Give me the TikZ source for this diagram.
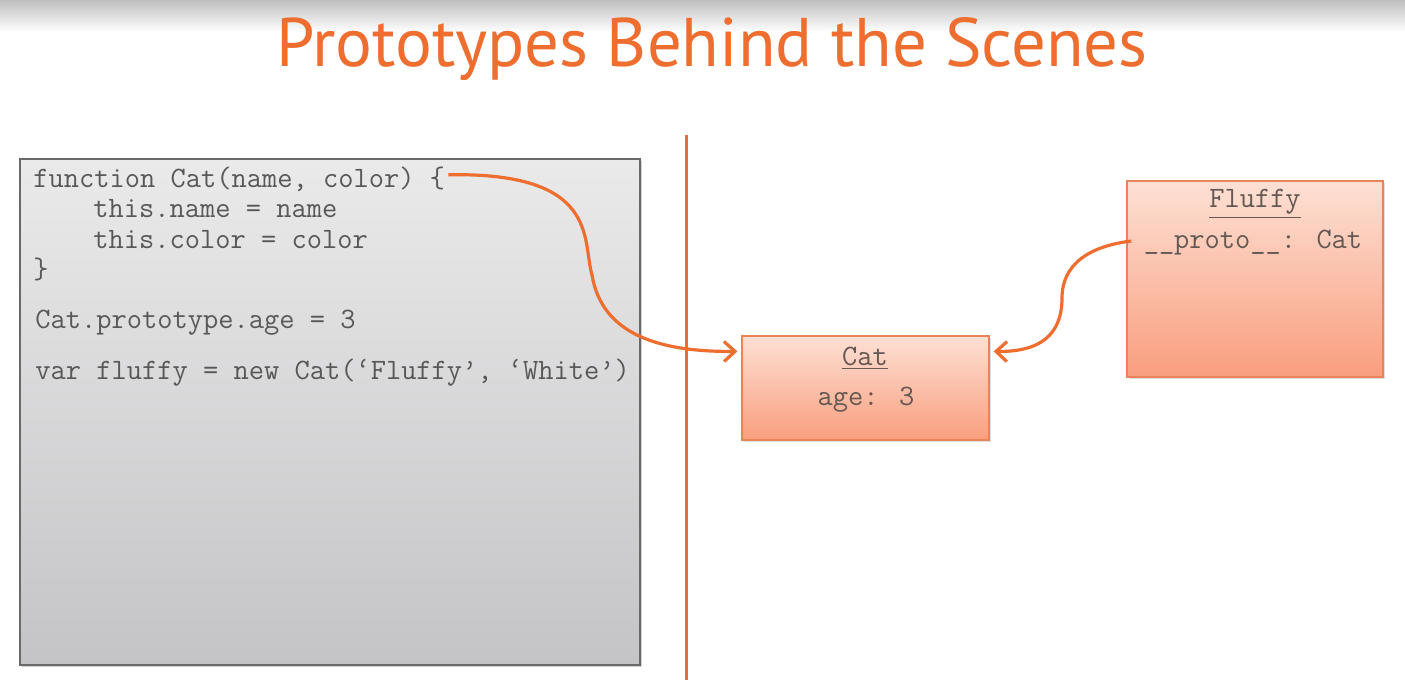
\documentclass[tikz,border=0pt]{standalone}
\usepackage{fontspec}
\setmainfont{PT Sans}
\usetikzlibrary{arrows.meta,shadows}

\definecolor{accent}{RGB}{238,110,48}
\definecolor{codeink}{RGB}{88,88,88}
\definecolor{objink}{RGB}{100,88,82}
\definecolor{panetop}{RGB}{234,234,235}
\definecolor{panebot}{RGB}{196,195,197}
\definecolor{paneedge}{RGB}{105,105,105}
\definecolor{objtop}{RGB}{253,224,212}
\definecolor{objbot}{RGB}{249,158,126}
\definecolor{objedge}{RGB}{234,130,90}

\tikzset{
  code/.style={font=\ttfamily\fontsize{14.8}{17}\selectfont, text=codeink, anchor=base west, inner sep=0pt},
  objtext/.style={font=\ttfamily\fontsize{14.8}{17}\selectfont, text=objink, inner sep=0pt},
  pane/.style={draw=paneedge, line width=0.8pt, top color=panetop, bottom color=panebot,
    drop shadow={shadow xshift=0.8pt, shadow yshift=-1.2pt, opacity=0.35}},
  objbox/.style={draw=objedge, line width=0.6pt, top color=objtop, bottom color=objbot,
    drop shadow={shadow xshift=0.8pt, shadow yshift=-1pt, opacity=0.25}},
  link/.style={draw=accent, line width=1.6pt, -{Straight Barb[length=5.5pt,width=10pt,line width=1.6pt]}},
}

\begin{document}
\begin{tikzpicture}[x=0.5pt,y=-0.5pt]
\useasboundingbox (0,0) rectangle (1405,695);
\fill[white] (0,0) rectangle (1405,695);
% grey fade along the top edge
\shade[top color=black!25, bottom color=white] (0,0) rectangle (1405,32);

% heading
\node[text=accent, font=\fontsize{34.4}{40}\selectfont] (title) at (712,49) {Prototypes Behind the Scenes};

% source pane
\node[pane, minimum width=310pt, minimum height=253pt, inner sep=0pt] (pane) at (330,412) {};
\node[code] (l1) at (33,188) {function Cat(name, color) \{};
\node[code] (l2) at (93,218) {this.name = name};
\node[code] (l3) at (93,249) {this.color = color};
\node[code] (l4) at (33,279) {\}};
\node[code] (l5) at (35,329) {Cat.prototype.age = 3};
\node[code] (l6) at (35,380) {var fluffy = new Cat(‘Fluffy’, ‘White’)};

% divider between code and memory
\coordinate (divtop) at (686,135);
\coordinate (divbot) at (686,680);
\draw[accent, line width=1.5pt] (divtop) -- (divbot);

% objects
\node[objbox, minimum width=123.5pt, minimum height=52pt, inner sep=0pt] (cat) at (865.5,388) {};
\node[objtext] (catname) at (865,358) {\underline{Cat}};
\node[objtext] (catage) at (866,400) {age: 3};

\node[objbox, minimum width=128pt, minimum height=98pt, inner sep=0pt] (fluffy) at (1255,279) {};
\node[objtext] (fluffyname) at (1255,204) {\underline{Fluffy}};
\node[objtext] (proto) at (1253,243) {\_\_proto\_\_: Cat};

% references
\draw[link] (l1.east) ++(3,-5) .. controls (600,172) and (582,240) .. (592,275)
  .. controls (602,335) and (660,352) .. ([xshift=-2pt,yshift=-8pt]cat.north west);
\draw[link] (proto.west) ++(-12,-2) .. controls (1075,248) and (1062,275) .. (1062,298)
  .. controls (1062,335) and (1040,352) .. ([xshift=2pt,yshift=-8pt]cat.north east);
\end{tikzpicture}
\end{document}
